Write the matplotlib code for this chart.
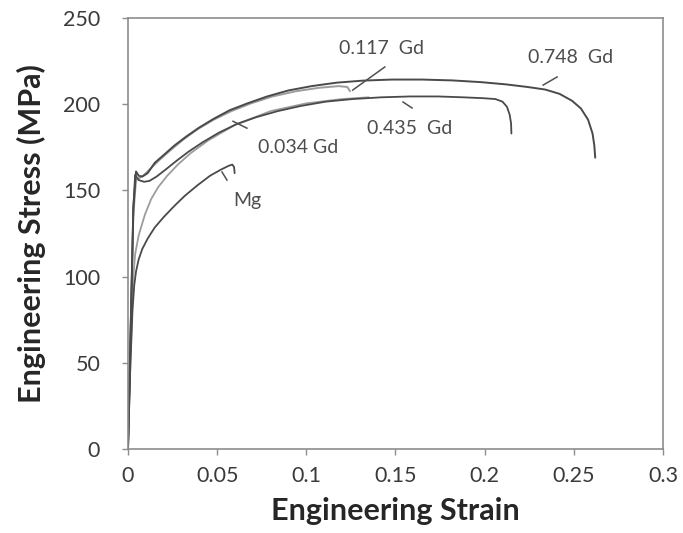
import matplotlib.pyplot as plt

# stress-strain curves (strain, MPa)
strain_748 = [0, 0.0015, 0.003, 0.0045, 0.006, 0.008, 0.011, 0.015, 0.020, 0.026, 0.033, 0.040,
              0.048, 0.057, 0.067, 0.078, 0.090, 0.103, 0.117, 0.132, 0.148, 0.165, 0.182, 0.198,
              0.212, 0.224, 0.234, 0.242, 0.249, 0.254, 0.258, 0.2605, 0.2615, 0.262]
stress_748 = [0, 70, 140, 161, 158.5, 158, 160, 166, 170.5, 176, 181.5, 186.5,
              191.5, 196.5, 200.5, 204.5, 208, 210.5, 212.5, 213.7, 214.3, 214.3, 213.8, 212.8,
              211.5, 210, 208.5, 206, 202, 197.5, 191, 183, 176, 169]

strain_435 = [0, 0.0015, 0.003, 0.004, 0.006, 0.009, 0.012, 0.016, 0.021, 0.027, 0.034, 0.042,
              0.051, 0.061, 0.072, 0.084, 0.097, 0.111, 0.126, 0.142, 0.158, 0.174, 0.188, 0.199,
              0.206, 0.210, 0.2125, 0.214, 0.2148, 0.215]
stress_435 = [0, 70, 140, 159, 156, 155, 155.5, 158, 162, 167, 172.5, 178,
              183.5, 188.5, 192.5, 196, 199, 201.5, 203, 204, 204.5, 204.5, 204, 203.5,
              203, 201.5, 198.5, 194, 189, 183]

strain_117 = [0, 0.0015, 0.003, 0.0045, 0.006, 0.009, 0.013, 0.018, 0.024, 0.031, 0.039, 0.048,
              0.058, 0.069, 0.081, 0.094, 0.107, 0.118, 0.123, 0.1245]
stress_117 = [0, 68, 136, 156, 157, 159, 163, 168, 173.5, 179.5, 185.5, 191,
              196, 200.5, 204.5, 207.5, 209.5, 210.5, 210, 207.5]

strain_034 = [0, 0.0015, 0.0028, 0.004, 0.006, 0.0095, 0.013, 0.017, 0.022, 0.028, 0.035, 0.045,
              0.060, 0.080, 0.100, 0.120, 0.135]
stress_034 = [0, 55, 98, 113, 124, 136, 145, 152, 158.5, 165, 171.5, 179,
              188, 196, 200.5, 203, 204]

strain_mg = [0, 0.0012, 0.0025, 0.0035, 0.0045, 0.006, 0.008, 0.011, 0.015, 0.020, 0.026, 0.032,
             0.039, 0.046, 0.052, 0.0565, 0.0585, 0.0595, 0.0598]
stress_mg = [0, 45, 80, 95, 103, 110, 116, 122, 128.5, 134.5, 141, 147,
             153, 158.5, 162, 164.3, 165, 163.5, 160]

# curve labels: text, text centre, leader line ends
labels = ['0.117  Gd', '0.748  Gd', '0.435  Gd', '0.034 Gd', 'Mg']
label_xy = [(0.142, 232.5), (0.248, 227), (0.158, 186), (0.0953, 175), (0.0667, 144)]
leader_a = [(0.126, 208.2), (0.2328, 211.1), (0.1542, 201.3), (0.0589, 190.1), (0.0527, 160.7)]
leader_b = [(0.144, 221.6), (0.2406, 215.8), (0.1593, 197.8), (0.0667, 186.1), (0.0555, 156.0)]

xticks = [0, 0.05, 0.1, 0.15, 0.2, 0.25, 0.3]
xticklabels = ['0', '0.05', '0.1', '0.15', '0.2', '0.25', '0.3']
yticks = [0, 50, 100, 150, 200, 250]

plt.rcParams['font.family'] = 'Lato'
fig = plt.figure(figsize=(6.83, 5.33), dpi=100)
ax = fig.add_axes([0.1874, 0.1576, 0.7833, 0.8086])

dark = '#4a4a4a'
light = '#9c9c9c'
ax.plot(strain_034, stress_034, color=light, lw=1.3, solid_capstyle='round')
ax.plot(strain_117, stress_117, color=light, lw=1.4, solid_capstyle='round')
ax.plot(strain_mg, stress_mg, color=dark, lw=1.3, solid_capstyle='round')
ax.plot(strain_435, stress_435, color=dark, lw=1.3, solid_capstyle='round')
ax.plot(strain_748, stress_748, color=dark, lw=1.4, solid_capstyle='round')

for txt, xy, a, b in zip(labels, label_xy, leader_a, leader_b):
    ax.plot([a[0], b[0]], [a[1], b[1]], color='#505050', lw=1.1)
    ax.text(xy[0], xy[1], txt, ha='center', va='center', fontsize=14, color='#4d4d4d')

ax.set_xlim(0, 0.3)
ax.set_ylim(0, 250)
ax.set_xticks(xticks)
ax.set_xticklabels(xticklabels)
ax.set_yticks(yticks)
ax.tick_params(direction='out', length=4, width=1, color='#8c8c8c',
               labelsize=15.5, labelcolor='#3a3a3a')
ax.tick_params(axis='y', pad=16)
ax.tick_params(axis='x', pad=8)
for s in ax.spines.values():
    s.set_color('#8c8c8c')
    s.set_linewidth(1.2)

ax.set_xlabel('Engineering Strain', fontsize=22, fontweight='bold', color='#262626', labelpad=8)
ax.set_ylabel('Engineering Stress (MPa)', fontsize=22, fontweight='bold', color='#262626', labelpad=12)

fig.savefig('out.png', dpi=100)
